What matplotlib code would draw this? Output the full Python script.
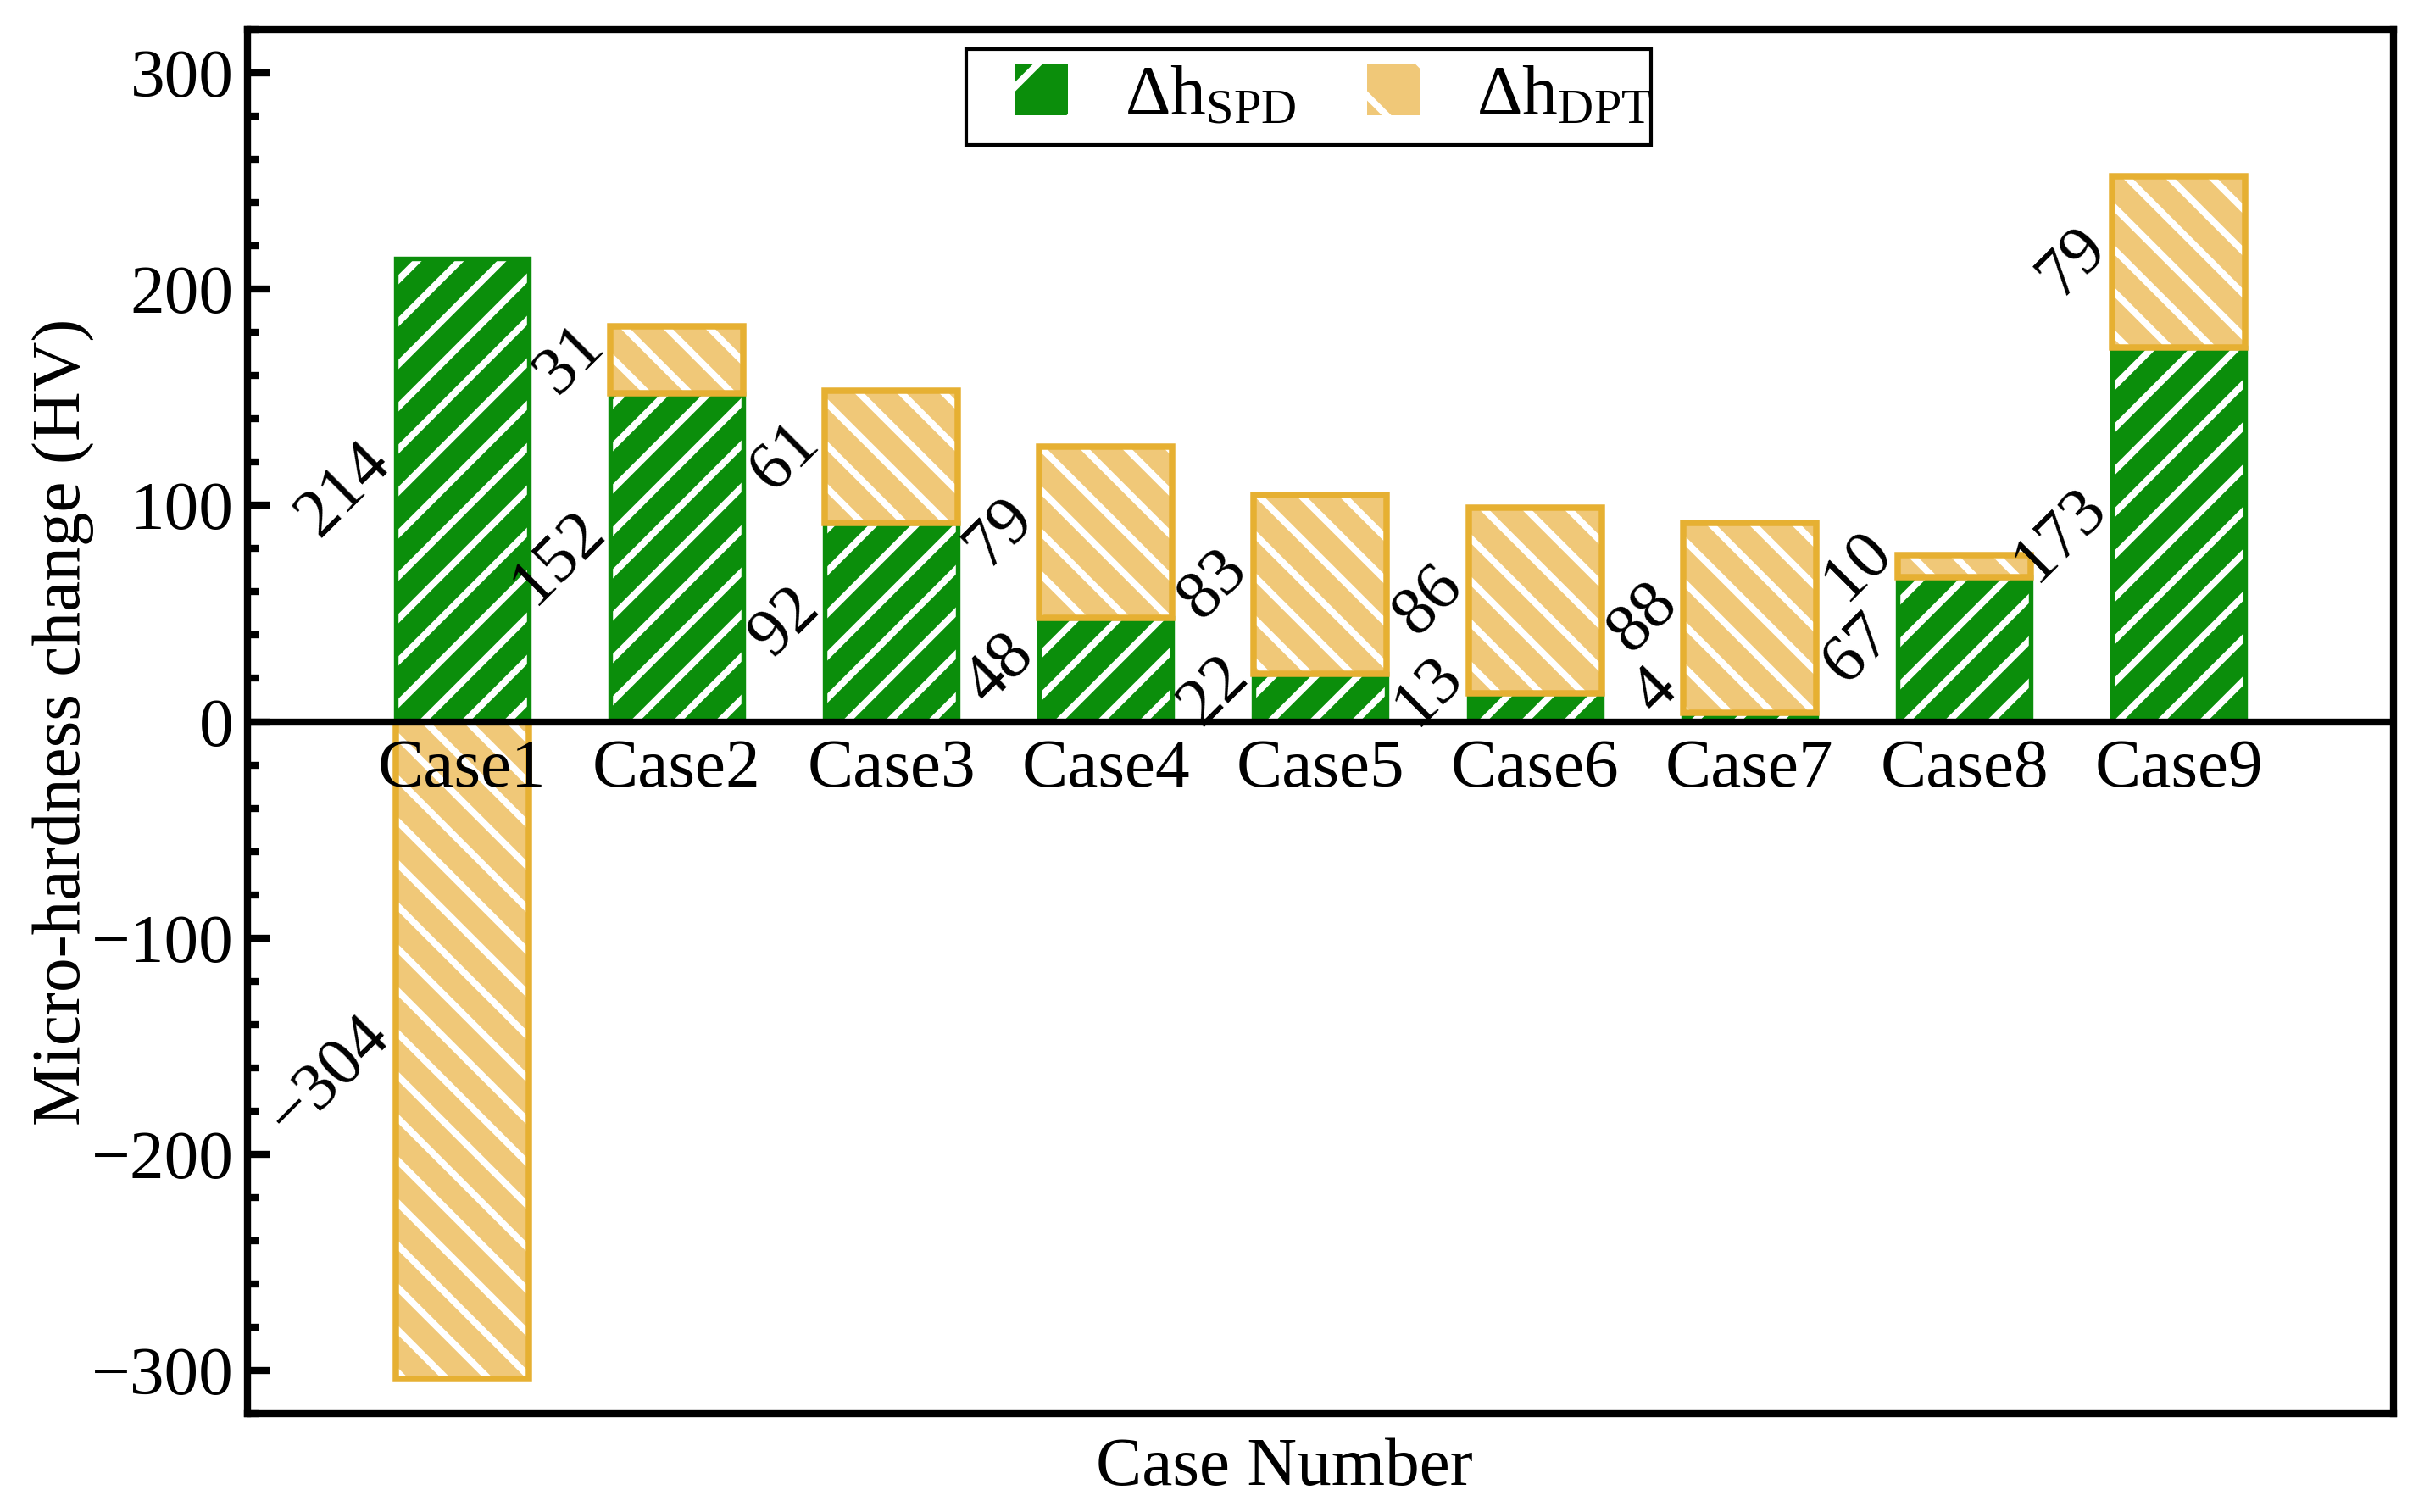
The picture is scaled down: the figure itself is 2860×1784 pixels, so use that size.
import matplotlib
matplotlib.use("Agg")
import matplotlib.pyplot as plt
from matplotlib.patches import Patch, Rectangle
from matplotlib.ticker import MultipleLocator
import numpy as np

# ---- data ----
categories = ["Case1", "Case2", "Case3", "Case4", "Case5", "Case6", "Case7", "Case8", "Case9"]
spd = [214, 152, 92, 48, 22, 13, 4, 67, 173]
dpt = [-304, 31, 61, 79, 83, 86, 88, 10, 79]
legend_labels = [r"$\Delta\mathrm{h}_{\mathrm{SPD}}$", r"$\Delta\mathrm{h}_{\mathrm{DPT}}$"]
y_ticks = [-300, -200, -100, 0, 100, 200, 300]

GREEN = "#0b8e0b"
ORANGE_FACE = "#f0c878"
ORANGE_EDGE = "#e6b032"

plt.rcParams["font.family"] = ["Liberation Serif", "DejaVu Serif"]
plt.rcParams["mathtext.fontset"] = "custom"
plt.rcParams["mathtext.rm"] = "Liberation Serif"
plt.rcParams["mathtext.it"] = "Liberation Serif:italic"
plt.rcParams["hatch.linewidth"] = 1.9
plt.rcParams["axes.unicode_minus"] = True

fig = plt.figure(figsize=(2860 / 300, 1784 / 300), dpi=300)
ax = fig.add_axes([0.1021, 0.065, 0.9874 - 0.1021, 0.9804 - 0.065])

x = np.arange(1, len(categories) + 1)
w = 0.62
spd_arr = np.array(spd, dtype=float)
dpt_arr = np.array(dpt, dtype=float)
dpt_bottom = np.where(dpt_arr < 0, 0, spd_arr)

# fills with white hatch
ax.bar(x, spd_arr, w, color=GREEN, edgecolor="white", hatch="//", linewidth=0, zorder=2)
ax.bar(x, dpt_arr, w, bottom=dpt_bottom, color=ORANGE_FACE, edgecolor="white",
       hatch="\\\\", linewidth=0, zorder=2)
# outlines
ax.bar(x, spd_arr, w, fill=False, edgecolor=GREEN, linewidth=1.3, zorder=3)
ax.bar(x, dpt_arr, w, bottom=dpt_bottom, fill=False, edgecolor=ORANGE_EDGE,
       linewidth=1.8, zorder=3)

ax.axhline(0, color="black", linewidth=2, zorder=4)

fs = 19.5
# value labels (rotated, just left of each bar)
for xi, s, d, b in zip(x, spd_arr, dpt_arr, dpt_bottom):
    ymid = max(s / 2, 14)
    ax.text(xi - w / 2 + 0.03, ymid, f"{int(s)}", rotation=45, ha="right", va="center",
            fontsize=fs, zorder=5)
    dmid = b + d / 2
    if d < 0:
        dmid -= 12
    lab = f"\u2212{abs(int(d))}" if d < 0 else f"{int(d)}"
    ax.text(xi - w / 2 + 0.03, dmid, lab, rotation=45, ha="right", va="center",
            fontsize=fs, zorder=5)

# category labels below zero line
for xi, c in zip(x, categories):
    ax.annotate(c, (xi, 0), xytext=(0, -5), textcoords="offset points",
                ha="center", va="top", fontsize=fs, zorder=5)

ax.set_xlim(0, 10)
ax.set_ylim(-320, 320)
ax.set_xticks([])
ax.set_yticks(y_ticks)
ax.set_yticklabels([f"\u2212{abs(t)}" if t < 0 else str(t) for t in y_ticks], fontsize=fs)
ax.yaxis.set_minor_locator(MultipleLocator(20))
ax.tick_params(axis="y", which="major", direction="in", length=6.5, width=2, pad=4)
ax.tick_params(axis="y", which="minor", direction="in", length=3, width=2)
for sp in ax.spines.values():
    sp.set_linewidth(2)

ax.set_ylabel("Micro-hardness change (HV)", fontsize=fs)
ax.yaxis.set_label_coords(-0.071, 0.5)
ax.set_xlabel("Case Number", fontsize=fs)
ax.xaxis.set_label_coords(0.483, -0.017)

# legend frame drawn separately (content sits off-centre in the original box)
ax.add_patch(Rectangle((0.335, 0.917), 0.654 - 0.335, 0.986 - 0.917, transform=ax.transAxes,
                       facecolor="white", edgecolor="black", linewidth=1.0, zorder=6))
handles = [Patch(facecolor=GREEN, edgecolor="white", hatch="/", linewidth=0),
           Patch(facecolor=ORANGE_FACE, edgecolor="white", hatch="\\", linewidth=0)]
leg = ax.legend(handles, legend_labels, loc="center", ncol=2, fontsize=20,
                frameon=False, handlelength=0.75, handleheight=0.75, columnspacing=1.0,
                handletextpad=0.8, borderpad=0.0, borderaxespad=0,
                bbox_to_anchor=(0.506, 0.952))
leg.set_zorder(7)

fig.savefig("out.png", dpi=300)
